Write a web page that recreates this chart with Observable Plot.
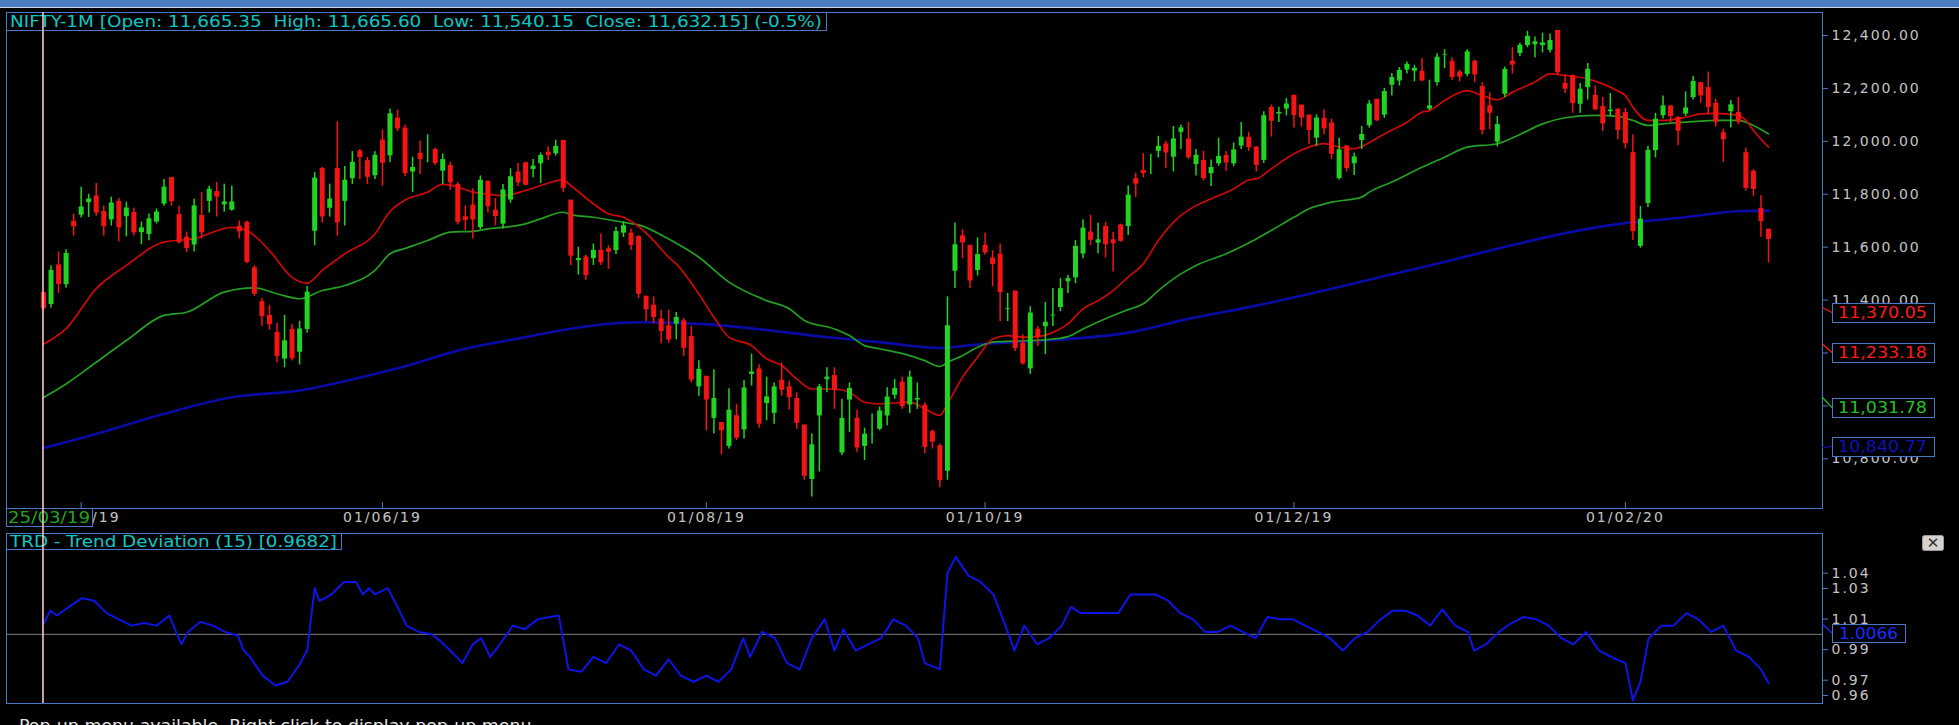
<!DOCTYPE html>
<html><head><meta charset="utf-8">
<script src="https://cdn.jsdelivr.net/npm/d3@7"></script>
<script src="https://cdn.jsdelivr.net/npm/@observablehq/plot@0.6"></script>
<style>
html,body{margin:0;padding:0;background:#000;width:1959px;height:725px;overflow:hidden;}
#wrap{position:relative;width:1959px;height:725px;background:#000;overflow:hidden;}
#wrap > *{position:absolute;left:0;}
</style></head><body><div id="wrap"></div>
<script>
// ---------- DATA ----------
const candleOpen = [
11425,11380,11530,11455,11695,11718,11765,11790,11732,11700,
11770,11712,11728,11652,11645,11692,11760,11860,11720,11635,
11605,11717,11770,11807,11757,11737,11676,11691,11519,11391,
11339,11275,11174,11286,11200,11286,11657,11894,11744,11894,
11770,11856,11961,11924,11867,12002,11942,12085,12047,11881,
11952,11975,11966,11884,11906,11834,11712,11756,11671,11846,
11737,11684,11775,11881,11916,11891,11912,11956,11950,12000,
11775,11546,11560,11554,11585,11591,11584,11650,11650,11637,
11412,11378,11325,11300,11306,11319,11259,11069,11109,10950,
10934,10844,10960,10906,11116,11137,11006,10969,11094,11069,
11025,10925,10719,10959,11096,11112,10819,11019,10950,10844,
10887,10909,10959,11037,11087,11000,11019,11000,10900,10846,
10750,11506,11640,11604,11509,11604,11556,11571,11362,11431,
11234,11137,11287,11296,11337,11369,11466,11481,11571,11654,
11612,11675,11625,11681,11675,11856,11887,11925,11959,11987,
11937,12031,12006,11909,11925,11875,11912,11944,11912,11979,
12012,11975,11925,12125,12100,12119,12171,12134,12096,12009,
12084,12066,11856,11979,11912,12000,12056,12156,12096,12209,
12225,12266,12262,12262,12119,12219,12325,12300,12259,12250,
12300,12204,12131,11994,12175,12300,12329,12359,12362,12359,
12341,12416,12216,12246,12137,12200,12171,12129,12109,12119,
12106,11954,11600,11762,11962,12094,12131,12087,12100,12162,
12219,12200,12141,12029,12109,12106,11954,11884,11744,11665.35];
const candleHigh = [
11430,11530,11582,11590,11725,11826,11800,11841,11755,11789,
11785,11770,11747,11695,11725,11744,11856,11864,11755,11657,
11781,11807,11830,11845,11838,11830,11699,11699,11530,11406,
11380,11312,11342,11309,11320,11451,11882,11901,11838,12074,
11905,11961,11969,11939,11961,12044,12122,12118,12062,11940,
12000,12025,11975,11952,11921,11844,11756,11821,11869,11850,
11784,11837,11896,11916,11921,11931,11956,11979,12004,12004,
11775,11600,11569,11612,11650,11606,11675,11696,11669,11644,
11412,11412,11362,11362,11353,11331,11300,11171,11112,11137,
10937,11065,11006,11096,11196,11156,11109,11087,11162,11094,
11050,10925,10894,11081,11144,11144,11025,11087,10984,10916,
10969,10996,11069,11100,11109,11131,11087,11012,10909,10856,
11412,11691,11666,11606,11635,11654,11587,11612,11425,11434,
11269,11375,11300,11391,11444,11481,11494,11625,11704,11721,
11691,11694,11656,11687,11831,11879,11954,11950,12019,12000,
12056,12062,12071,11969,11962,11929,12012,11962,11994,12071,
12034,11981,12112,12137,12129,12162,12175,12137,12100,12100,
12119,12084,12012,11984,11956,12056,12154,12159,12200,12256,
12279,12300,12287,12312,12231,12331,12346,12316,12269,12346,
12306,12221,12184,12094,12281,12354,12371,12416,12394,12409,
12406,12419,12250,12250,12219,12294,12209,12166,12181,12121,
12125,12025,11754,11981,12106,12171,12134,12094,12187,12246,
12221,12262,12159,12046,12154,12166,11975,11894,11794,11665.60];
const candleLow = [
11360,11370,11425,11445,11642,11710,11712,11717,11642,11680,
11620,11639,11642,11609,11624,11688,11755,11755,11612,11579,
11582,11631,11729,11714,11732,11736,11631,11537,11414,11301,
11286,11162,11144,11170,11155,11275,11605,11691,11714,11642,
11680,11837,11856,11837,11856,11830,11920,12037,11866,11806,
11875,11919,11909,11837,11815,11684,11662,11631,11666,11729,
11681,11669,11766,11829,11831,11862,11841,11927,11944,11806,
11531,11494,11475,11531,11531,11516,11571,11637,11587,11406,
11319,11312,11234,11237,11250,11187,11087,11037,10906,10894,
10816,10837,10869,10875,11075,10916,10944,10931,11037,10984,
10912,10719,10656,10750,11050,10987,10812,10900,10825,10794,
10856,10906,10925,11025,10987,10971,10987,10819,10837,10691,
10719,11444,11556,11444,11491,11569,11450,11319,11319,11206,
11154,11119,11225,11194,11300,11356,11425,11462,11556,11606,
11575,11559,11506,11619,11644,11788,11862,11875,11937,11896,
11884,11969,11931,11869,11850,11829,11906,11887,11904,11969,
11962,11884,11916,12016,12071,12096,12050,12054,11987,11981,
12025,11931,11854,11884,11871,11969,12050,12075,12087,12171,
12209,12254,12225,12225,12116,12209,12275,12231,12225,12244,
12221,12025,12044,11979,12166,12254,12321,12354,12316,12334,
12334,12250,12181,12106,12106,12156,12119,12037,12096,12006,
11971,11625,11596,11750,11937,12084,12069,11984,12094,12156,
12144,12100,12054,11921,12050,12063,11812,11791,11637,11540.15];
const candleClose = [
11370.05,11515,11462,11579,11680,11755,11785,11732,11680,11770,
11676,11751,11657,11676,11710,11736,11830,11775,11620,11598,
11759,11657,11822,11792,11774,11774,11661,11545,11425,11340,
11310,11190,11249,11181,11294,11433,11864,11717,11785,11695,
11856,11924,11942,11867,11950,11920,12107,12050,11881,11904,
11934,11981,11919,11934,11846,11696,11704,11706,11856,11756,
11719,11819,11869,11846,11837,11909,11950,11949,11984,11825,
11569,11560,11496,11591,11544,11584,11662,11684,11609,11425,
11366,11337,11284,11252,11337,11221,11100,11141,11025,11031,
10909,10987,10881,11071,11131,10934,11037,11075,11062,11034,
10937,10737,10856,11075,11112,11062,10956,11069,10844,10896,
10894,10984,11037,11069,11000,11112,11031,10846,10866,10721,
11306,11612,11619,11475,11575,11581,11537,11431,11371,11219,
11162,11354,11262,11319,11346,11446,11484,11606,11675,11629,
11631,11612,11616,11625,11800,11841,11881,11931,11984,11959,
12012,12054,11941,11950,11862,11904,11946,11921,11971,12019,
11979,11912,12100,12079,12112,12144,12100,12091,12044,12091,
12050,11954,11971,11900,11944,12029,12144,12081,12191,12244,
12271,12294,12279,12231,12137,12321,12329,12244,12246,12341,
12254,12044,12109,12066,12275,12291,12366,12400,12379,12375,
12384,12262,12200,12146,12200,12275,12121,12069,12121,12044,
11994,11662,11709,11969,12087,12137,12096,12041,12129,12229,
12175,12131,12075,12009,12141,12075,11825,11821,11700,11632.15];

// moving averages: [candle index, value]
const maRed = [[0,11233.18],[3,11292],[7,11443],[11,11531],[16,11619],[20,11632],[25,11675],[27,11663],[30,11587],[33,11486],[35,11464],[37,11512],[40,11575],[44,11650],[46,11735],[48,11778],[51,11808],[53,11837],[55,11827],[57,11808],[59,11801],[61,11795],[64,11814],[66,11833],[69,11854],[70,11833],[73,11764],[75,11726],[77,11713],[79,11678],[81,11625],[83,11562],[84,11537],[87,11423],[89,11335],[91,11260],[94,11228],[96,11178],[98,11153],[100,11102],[102,11064],[105,11064],[107,11052],[109,11014],[111,11008],[115,11014],[117,10989],[119,10964],[120,11008],[122,11108],[124,11184],[126,11253],[128,11266],[130,11260],[132,11262],[134,11278],[136,11310],[138,11367],[140,11398],[142,11436],[144,11487],[146,11537],[148,11625],[151,11720],[153,11757],[155,11783],[158,11820],[160,11854],[161,11858],[163,11896],[166,11953],[168,11978],[170,11991],[172,11978],[174,11972],[176,11995],[178,12028],[181,12072],[183,12110],[184,12116],[186,12154],[189,12192],[191,12173],[193,12157],[195,12186],[198,12224],[200,12255],[202,12249],[205,12236],[207,12217],[209,12190],[210,12173],[211,12129],[213,12079],[215,12079],[218,12091],[220,12104],[222,12106],[225,12098],[226,12079],[227,12041],[229,11978]];
const maGreen = [[0,11031.78],[3,11083],[7,11165],[11,11247],[16,11342],[19,11354],[24,11430],[28,11446],[31,11424],[34,11405],[37,11436],[40,11455],[44,11512],[46,11575],[48,11595],[51,11625],[54,11657],[57,11660],[59,11669],[64,11688],[66,11707],[69,11732],[70,11723],[73,11713],[77,11694],[79,11684],[83,11631],[87,11562],[91,11468],[96,11398],[99,11367],[101,11323],[105,11291],[107,11266],[109,11228],[111,11216],[115,11190],[117,11171],[119,11149],[120,11165],[122,11190],[124,11222],[126,11241],[129,11245],[133,11250],[136,11262],[138,11291],[142,11342],[144,11364],[146,11386],[148,11436],[151,11499],[153,11531],[157,11575],[161,11631],[166,11713],[168,11745],[171,11770],[175,11789],[176,11808],[179,11846],[183,11902],[186,11940],[189,11978],[193,11991],[196,12026],[199,12066],[202,12089],[206,12098],[209,12094],[211,12079],[213,12060],[215,12066],[220,12076],[222,12079],[225,12079],[227,12060],[229,12028]];
const maBlue = [[0,10840.77],[7,10894],[16,10970],[25,11033],[34,11058],[44,11121],[48,11150],[55,11209],[64,11260],[69,11287],[73,11304],[79,11316],[87,11310],[96,11287],[102,11266],[111,11241],[119,11219],[124,11232],[133,11247],[144,11277],[152,11329],[161,11379],[170,11436],[176,11477],[185,11537],[193,11594],[202,11653],[209,11687],[218,11713],[225,11736],[229,11738]];

// Trend deviation (15): [candle index, value]
const trd = [[0,1.0066],[0.9,1.0155],[1.75,1.0123],[3.4,1.018],[5.1,1.0237],[6.7,1.022],[8.4,1.0139],[10,1.0098],[11.7,1.0057],[13.4,1.0074],[15,1.0057],[16.7,1.0123],[18.3,0.9935],[19.2,1.0016],[20.8,1.0082],[22.5,1.0057],[24.1,1.0016],[25.8,0.9992],[26.6,0.9894],[27.4,0.9853],[29.1,0.973],[30.8,0.9665],[32.4,0.969],[34.1,0.9812],[35,0.9894],[36,1.0302],[36.6,1.022],[37.4,1.0237],[38.2,1.0261],[39.9,1.0343],[41.5,1.0343],[42.4,1.0261],[43.2,1.0302],[44,1.0261],[45.7,1.0302],[47,1.018],[48.2,1.0057],[49.8,1.0016],[51.5,1.0],[52.6,0.9959],[54,0.9894],[55.6,0.9812],[57,0.9935],[58.1,0.9975],[59.3,0.9853],[60.6,0.9935],[62.3,1.0057],[63.9,1.0033],[65.6,1.0098],[67.2,1.0114],[68.4,1.0123],[69.7,0.9771],[71.4,0.9755],[73,0.9853],[74.7,0.9812],[76.4,0.9935],[78,0.9894],[79.7,0.9771],[81.3,0.973],[83,0.9837],[84.6,0.973],[86.3,0.969],[88,0.973],[89.6,0.969],[91.3,0.9771],[92.9,0.9975],[93.8,0.9853],[95.4,1.0016],[97.1,0.9975],[98.7,0.9812],[100.4,0.9771],[102,0.9975],[103.7,1.0098],[105,0.9894],[106.2,1.0033],[107.8,0.9894],[109.5,0.9935],[111.2,0.9975],[112.8,1.0098],[114.5,1.0057],[116.1,0.9975],[117,0.9812],[119,0.9771],[120,1.04],[121.1,1.0507],[122.8,1.0384],[124.4,1.0343],[126.1,1.0261],[127.7,1.0057],[128.9,0.9894],[130.2,1.0057],[131.9,0.9935],[133.5,0.9975],[135.2,1.0057],[136.4,1.018],[137.7,1.0139],[139.3,1.0139],[141,1.0139],[142.7,1.0139],[144.3,1.0261],[146,1.0261],[147.6,1.0261],[149.3,1.022],[150.9,1.0139],[152.6,1.0098],[154.2,1.0016],[155.9,1.0016],[157.6,1.0057],[159.2,1.0016],[160.9,0.9975],[162.5,1.0114],[164.2,1.0098],[165.9,1.0098],[167.5,1.0057],[169.2,1.0016],[170.8,0.9975],[172.5,0.9894],[174.1,0.9975],[175.8,1.0016],[177.5,1.0098],[179.1,1.0155],[180.8,1.0155],[182.4,1.0123],[184.1,1.0057],[185.7,1.0163],[187.4,1.0057],[189.1,1.0016],[189.9,0.9894],[191.5,0.9935],[193.2,1.0016],[194.9,1.0074],[196.5,1.0114],[198.2,1.0098],[199.8,1.0057],[201.5,0.9975],[203.1,0.9935],[204.8,1.0016],[206.5,0.9894],[208.1,0.9853],[210,0.9812],[211,0.9567],[212,0.969],[213.1,0.9975],[214.8,1.0057],[216.4,1.0057],[218.1,1.0139],[219.7,1.0098],[221.4,1.0016],[223,1.0057],[224.7,0.9894],[226.4,0.9853],[228,0.9771],[229,0.9682]];

const priceTicks = [12400,12200,12000,11800,11600,11400,11200,11000,10800];
const trdTicks = [1.04,1.03,1.01,0.99,0.97,0.96];
const trdBase = 1.0;
const dateTickIdx = [5,45,88,125,166,210];
const dateTickLabels = ["01/04/19","01/06/19","01/08/19","01/10/19","01/12/19","01/02/20"];
const cursorIdx = 0;
const cursorLabel = "25/03/19";
const titleText = "NIFTY-1M [Open: 11,665.35  High: 11,665.60  Low: 11,540.15  Close: 11,632.15] (-0.5%)";
const trdTitle = "TRD - Trend Deviation (15) [0.9682]";
const priceLabels = [ // value, text color
  {v: 11370.05, c: "#ff1a1a"}, {v: 11233.18, c: "#ff1a1a"}, {v: 11031.78, c: "#22c022"}, {v: 10840.77, c: "#1010b8"}];
const trdLabel = {v: 1.0066, c: "#1a2aff"};
const footer = "Pop-up menu available. Right click to display pop-up menu.";

// ---------- STYLE ----------
const FRAME = "#4a78c8", GREEN = "#22d422", RED = "#f41414", AXTXT = "#c4c4c4";
const wrap = document.getElementById("wrap");
const xDomain = [-4.91, 236.17];
const candles = candleOpen.map((o, i) => ({i, open: o, high: candleHigh[i], low: candleLow[i], close: candleClose[i]}));
const col = d => d.close >= d.open ? GREEN : RED;
const pts = a => a.map(([i, v]) => ({i, v}));
const baseStyle = {background: "transparent", color: AXTXT, fontFamily: "DejaVu Sans", fontSize: "14px", letterSpacing: "2px", overflow: "visible"};
const tickLab = new Map(dateTickIdx.map((t, k) => [t, dateTickLabels[k]]));

// top bar
const bar = document.createElement("div");
bar.style.cssText = "top:0;width:1959px;height:7px;background:#4a7ebf;border-bottom:1px solid #c9d3e6;";
wrap.appendChild(bar);

const topChart = Plot.plot({
  width: 1959, height: 530,
  marginLeft: 6, marginRight: 137, marginTop: 12, marginBottom: 22,
  x: {domain: xDomain, axis: null},
  y: {domain: [10612.3, 12486.9], axis: null},
  color: {type: "identity"},
  style: baseStyle,
  marks: [
    Plot.line(pts(maBlue), {x: "i", y: "v", stroke: "#0a0aa6", strokeWidth: 2.6, curve: "monotone-x"}),
    Plot.line(pts(maGreen), {x: "i", y: "v", stroke: "#23a023", strokeWidth: 1.7, curve: "monotone-x"}),
    Plot.line(pts(maRed), {x: "i", y: "v", stroke: "#d00808", strokeWidth: 1.7, curve: "monotone-x"}),
    Plot.ruleX(candles, {x: "i", y1: "low", y2: "high", stroke: col, strokeWidth: 1.5}),
    Plot.ruleX(candles, {x: "i", y1: "open", y2: "close", stroke: col, strokeWidth: 5, insetTop: -0.8, insetBottom: -0.8}),
    Plot.axisY({anchor: "right", label: null, ticks: priceTicks, tickFormat: d3.format(",.2f"), tickSize: 5, tickPadding: 4, stroke: FRAME, fill: AXTXT}),
    Plot.axisX({anchor: "bottom", label: null, ticks: dateTickIdx, tickFormat: () => "", tickSize: 6, dy: -6, stroke: FRAME}),
    Plot.axisX({anchor: "bottom", label: null, ticks: dateTickIdx, tickFormat: d => tickLab.get(d), tickSize: 0, tickPadding: 4, fill: AXTXT}),
    Plot.frame({stroke: FRAME})
  ]
});
topChart.style.top = "0px";
wrap.appendChild(topChart);

const botChart = Plot.plot({
  width: 1959, height: 176,
  marginLeft: 6, marginRight: 137, marginTop: 3, marginBottom: 3,
  x: {domain: xDomain, axis: null},
  y: {domain: [0.95477, 1.06597], axis: null},
  style: baseStyle,
  marks: [
    Plot.ruleY([trdBase], {stroke: "#7a7a7a", strokeWidth: 1}),
    Plot.line(pts(trd), {x: "i", y: "v", stroke: "#0c14e6", strokeWidth: 2}),
    Plot.axisY({anchor: "right", label: null, ticks: trdTicks, tickFormat: d3.format(".2f"), tickSize: 5, tickPadding: 4, stroke: FRAME, fill: AXTXT}),
    Plot.frame({stroke: FRAME})
  ]
});
botChart.style.top = "530px";
wrap.appendChild(botChart);

// ---------- OVERLAY (labels, boxes, cursor) ----------
const ys = topChart.scale("y"), xs = topChart.scale("x"), ys2 = botChart.scale("y");
const ov = d3.select(wrap).append("svg").attr("width", 1959).attr("height", 725).style("top", "0px").style("font-family", "DejaVu Sans");

function box(x, y, w, h, text, color, tx, tl, fs) {
  ov.append("rect").attr("x", x + 0.5).attr("y", y + 0.5).attr("width", w).attr("height", h).attr("fill", "#000").attr("stroke", FRAME);
  ov.append("text").attr("x", tx).attr("y", y + h / 2 + 0.5).attr("dy", "0.36em").attr("fill", color)
    .attr("font-size", fs).attr("textLength", tl).attr("lengthAdjust", "spacingAndGlyphs").style("white-space", "pre").text(text);
}

// price value labels with leader lines
const boxTops = [303, 343, 398, 437];
priceLabels.forEach((p, k) => {
  const yv = ys.apply(p.v);
  ov.append("line").attr("x1", 1822).attr("y1", yv).attr("x2", 1832).attr("y2", boxTops[k] + 9.5).attr("stroke", p.c).attr("stroke-width", 1.2);
  box(1832, boxTops[k], 102, 19, d3.format(",.2f")(p.v), p.c, 1838, 89, 15);
});
{
  const yv = 530 + ys2.apply(trdLabel.v);
  ov.append("line").attr("x1", 1822).attr("y1", yv).attr("x2", 1832).attr("y2", 633).attr("stroke", trdLabel.c).attr("stroke-width", 1.2);
  box(1832, 624, 73, 18, d3.format(".4f")(trdLabel.v), trdLabel.c, 1839, 59, 15);
}

box(6, 12, 820, 18, titleText, "#0cc8c8", 10, 812, 16);
box(6, 508, 86, 18, cursorLabel, "#22a422", 8, 82, 15);
box(6, 533, 335, 16, trdTitle, "#0cc8c8", 10, 327, 15);

// close button
ov.append("rect").attr("x", 1922.5).attr("y", 535.5).attr("width", 21).attr("height", 15).attr("rx", 2).attr("fill", "#d6d3cc").attr("stroke", "#9a9a9a");
ov.append("text").attr("x", 1933).attr("y", 543).attr("dy", "0.36em").attr("text-anchor", "middle").attr("font-size", 15).attr("fill", "#303030").text("✕");

// footer (cut by window bottom)
ov.append("text").attr("x", 19).attr("y", 731).attr("fill", "#e6e6e6").attr("font-size", 15)
  .attr("textLength", 518).attr("lengthAdjust", "spacingAndGlyphs").text(footer);

// cursor line across both panels
const cx = xs.apply(cursorIdx);
ov.append("line").attr("x1", cx).attr("x2", cx).attr("y1", 12).attr("y2", 703).attr("stroke", "#f3c6c6").attr("stroke-width", 1.6);
</script></body></html>
